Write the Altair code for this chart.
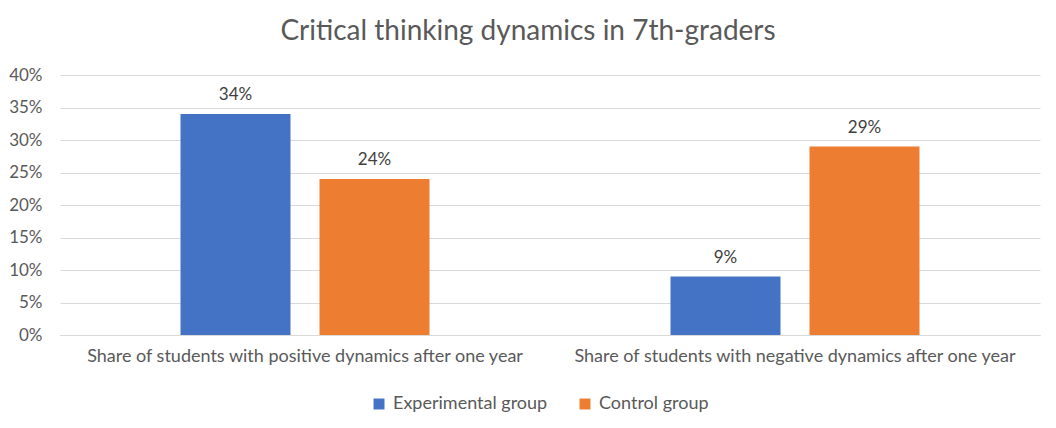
import altair as alt
import pandas as pd

categories = ["Share of students with positive dynamics after one year",
              "Share of students with negative dynamics after one year"]
series = ["Experimental group", "Control group"]
experimental = [0.34, 0.09]
control = [0.24, 0.29]
colors = ["#4472C4", "#ED7D31"]
y_ticks = [0, 0.05, 0.1, 0.15, 0.2, 0.25, 0.3, 0.35, 0.4]

rows = []
for i, c in enumerate(categories):
    rows.append({"category": c, "group": series[0], "value": experimental[i]})
    rows.append({"category": c, "group": series[1], "value": control[i]})
df = pd.DataFrame(rows)

FONT = "Lato"
GRAY = "#595959"

base = alt.Chart(df).encode(
    x=alt.X("category:N", sort=categories, title=None,
            scale=alt.Scale(paddingInner=0, paddingOuter=0),
            axis=alt.Axis(labelAngle=0, labelFontSize=18, labelColor=GRAY, labelFont=FONT,
                          domain=True, domainColor="#D9D9D9", ticks=False, labelPadding=12,
                          labelLimit=600)),
    xOffset=alt.XOffset("group:N", sort=series,
                        scale=alt.Scale(paddingInner=0.2086, paddingOuter=0.867)),
    y=alt.Y("value:Q", title=None,
            scale=alt.Scale(domain=[0, 0.4]),
            axis=alt.Axis(format=".0%", values=y_ticks,
                          labelFontSize=17, labelColor=GRAY, labelFont=FONT,
                          labelOverlap=False, grid=True,
                          domain=False, ticks=False, labelPadding=18,
                          gridColor="#D9D9D9", gridWidth=1)),
)

bars = base.mark_bar().encode(
    color=alt.Color("group:N", sort=series, title=None,
                    scale=alt.Scale(domain=series, range=colors),
                    legend=alt.Legend(orient="none", legendX=310, legendY=320,
                                      direction="horizontal", symbolType="square",
                                      symbolSize=120, symbolStrokeWidth=0,
                                      labelFontSize=18, labelColor=GRAY, labelFont=FONT,
                                      columnPadding=28, labelOffset=5)),
)

labels = base.mark_text(dy=-19, fontSize=17, color="#404040", font=FONT).encode(
    text=alt.Text("value:Q", format=".0%"),
)

chart = (bars + labels).properties(
    width=980, height=260,
    title=alt.TitleParams("Critical thinking dynamics in 7th-graders", fontSize=28,
                          color=GRAY, font=FONT, fontWeight="normal", offset=20, dx=-22),
    autosize=alt.AutoSizeParams(type="none"),
    padding={"left": 52, "top": 67, "right": 8, "bottom": 85},
).configure_view(stroke=None).configure_axisX(grid=False)

chart.save("out.html", embed_options={"renderer": "svg", "actions": False})
